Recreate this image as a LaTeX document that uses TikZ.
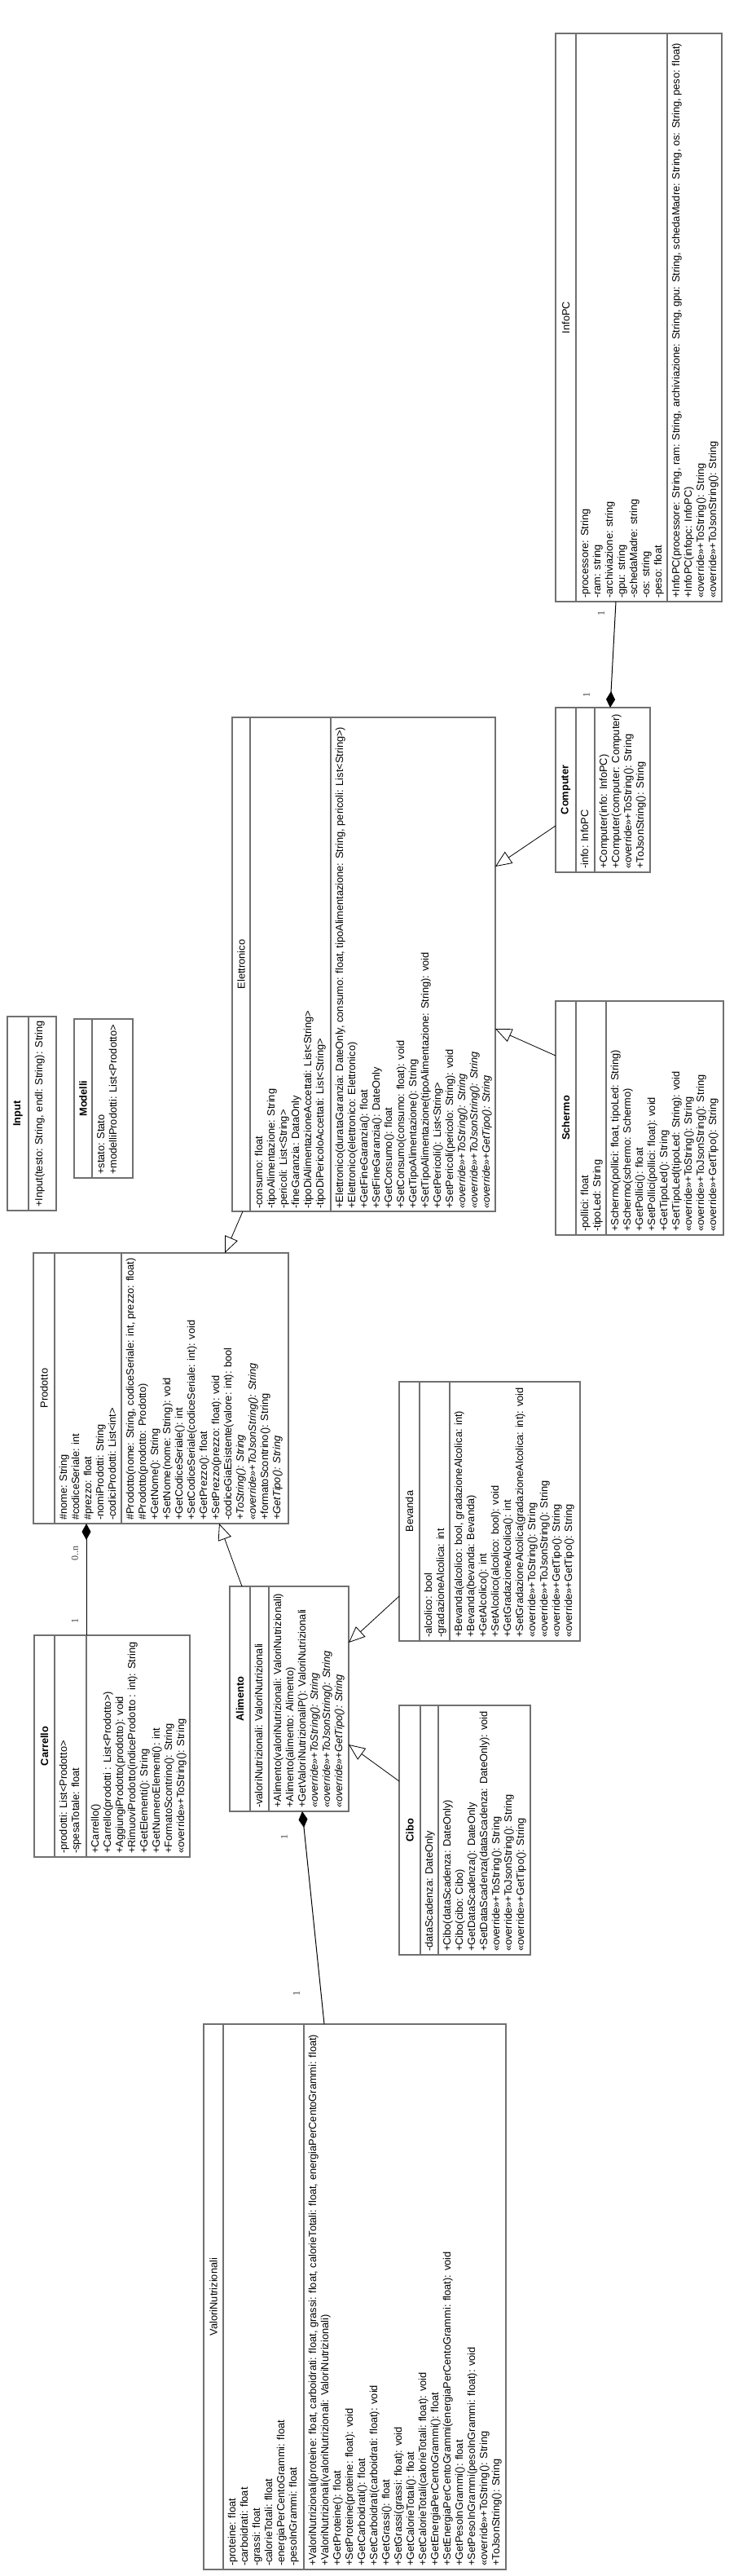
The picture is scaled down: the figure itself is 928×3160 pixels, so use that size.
\documentclass[tikz,border=0pt]{standalone}
\usepackage{fontspec}
\setmainfont{Liberation Sans}
\newfontfamily\lblfont{Liberation Serif}
\usetikzlibrary{arrows.meta,calc}
\definecolor{boxgray}{RGB}{112,112,112}
\tikzset{
 classbox/.style={draw=boxgray, line width=1.5pt, fill=white, inner sep=0pt, outer sep=0pt, anchor=north west},
 sepline/.style={draw=boxgray, line width=1.5pt},
 txt/.style={rotate=90, anchor=base west, inner sep=0pt, font=\fontsize{12.8}{15}\selectfont},
 ttl/.style={rotate=90, anchor=center, inner sep=0pt, font=\fontsize{12.8}{15}\selectfont},
 ttlb/.style={rotate=90, anchor=center, inner sep=0pt, font=\fontsize{12.8}{15}\selectfont\bfseries},
 gen/.style={draw=black, line width=0.8pt, -{Triangle[open, length=20pt, width=17pt, line width=0.8pt]}},
 compo/.style={draw=black, line width=1pt, {Diamond[length=20pt, width=11pt]}-},
 mult/.style={rotate=90, inner sep=0pt, font=\lblfont\fontsize{12}{14}\selectfont, text=black!75},
}
% #1 separator x, #2 bottom y (text start), #3 list of entries
\newcommand{\entries}[3]{\foreach \entry [count=\i from 0] in {#3}{\node[txt] at ({#1+15+15*\i},{#2}) {\entry};}}
% #1 name #2 x1 #3 y1 #4 x2 #5 y2 #6 sep1 #7 sep2
\newcommand{\clsbox}[7]{%
 \node[classbox, minimum width={(#4-#2)*1pt}, minimum height={(#5-#3)*1pt}] (#1) at (#2,#3) {};
 \draw[sepline] (#6,#3) -- (#6,#5);
 \draw[sepline] (#7,#3) -- (#7,#5);
}
\begin{document}
\begin{tikzpicture}[x=1pt, y=-1pt]
\useasboundingbox (0,0) rectangle (928,3160);
\fill[white] (0,0) rectangle (928,3160);

% ---------- InfoPC
\clsbox{infopc}{682}{41}{886}{738}{707}{819}
\node[ttl] at (694.5,389.5) {InfoPC};
\entries{707}{734}{{-processore: String},{-ram: string},{-archiviazione: string},{-gpu: string},{-schedaMadre: string},{-os: string},{-peso: float}}
\entries{819}{734}{{+InfoPC(processore: String, ram: String, archiviazione: String, gpu: String, schedaMadre: String, os: String, peso: float)},{+InfoPC(infopc: InfoPC)},{«override»+ToString(): String},{«override»+ToJsonString(): String}}

% ---------- Computer
\clsbox{comp}{682}{868}{798}{1070}{707}{730}
\node[ttlb] at (694.5,969) {Computer};
\entries{707}{1066}{{-info: InfoPC}}
\entries{730}{1066}{{+Computer(info: InfoPC)},{+Computer(computer: Computer)},{«override»+ToString(): String},{+ToJsonString(): String}}

% ---------- Schermo
\clsbox{scherm}{682}{1228}{888}{1515}{707}{744}
\node[ttlb] at (694.5,1371.5) {Schermo};
\entries{707}{1511}{{-pollici: float},{-tipoLed: String}}
\entries{744}{1511}{{+Schermo(pollici: float, tipoLed: String)},{+Schermo(schermo: Schermo)},{+GetPollici(): float},{+SetPollici(pollici: float): void},{+GetTipoLed(): String},{+SetTipoLed(tipoLed: String): void},{«override»+ToString(): String},{«override»+ToJsonString(): String},{«override»+GetTipo(): String}}

% ---------- Elettronico
\clsbox{elet}{285}{880}{608}{1486}{307}{406}
\node[ttl] at (296,1183) {Elettronico};
\entries{307}{1483}{{-consumo: float},{-tipoAlimentazione: String},{-pericoli: List<String>},{-fineGaranzia: DataOnly},{-tipoDiAlimentazioneAccettati: List<String>},{-tipoDiPericoloAccettati: List<String>}}
\entries{406}{1483}{{+Elettronico(durataGaranzia: DateOnly, consumo: float, tipoAlimentazione: String, pericoli: List<String>)},{+Elettronico(elettronico: Elettronico)},{+GetFineGaranzia(): float},{+SetFineGaranzia(): DateOnly},{+GetConsumo(): float},{+SetConsumo(consumo: float): void},{+GetTipoAlimentazione(): String},{+SetTipoAlimentazione(tipoAlimentazione: String): void},{+GetPericoli(): List<String>},{+SetPericoli(pericolo: String): void},{\textit{«override»+ToString(): String}},{\textit{«override»+ToJsonString(): String}},{\textit{«override»+GetTipo(): String}}}

% ---------- Input
\node[classbox, minimum width=60pt, minimum height=238pt] (inp) at (9,1247) {};
\draw[sepline] (35,1247) -- (35,1485);
\node[ttlb] at (22,1366) {Input};
\node[txt] at (52,1481) {+Input(testo: String, endl: String): String};

% ---------- Modelli
\node[classbox, minimum width=72pt, minimum height=195pt] (mod) at (91,1250) {};
\draw[sepline] (113,1250) -- (113,1445);
\node[ttlb] at (102,1347.5) {Modelli};
\entries{113}{1441}{{+stato: Stato},{+modelliProdotti: List<Prodotto>}}

% ---------- Prodotto
\clsbox{prod}{41}{1537}{354}{1869}{67}{149}
\node[ttl] at (54,1703) {Prodotto};
\entries{67}{1865}{{\#nome: String},{\#codiceSeriale: int},{\#prezzo: float},{-nomiProdotti: String},{-codiciProdotti: List<int>}}
\entries{149}{1865}{{\#Prodotto(nome: String, codiceSeriale: int, prezzo: float)},{\#Prodotto(prodotto: Prodotto)},{+GetNome(): String},{+SetNome(nome: String): void},{+GetCodiceSeriale(): int},{+SetCodiceSeriale(codiceSeriale: int): void},{+GetPrezzo(): float},{+SetPrezzo(prezzo: float): void},{-codiceGiaEsistente(valore: int): bool},{\textit{+ToString(): String}},{\textit{«override»+ToJsonString(): String}},{+formatoScontrino(): String},{\textit{+GetTipo(): String}}}

% ---------- Carrello
\clsbox{carr}{42}{2006}{233}{2278}{67}{106}
\node[ttlb] at (54.5,2142) {Carrello};
\entries{67}{2274}{{-prodotti: List<Prodotto>},{-spesaTotale: float}}
\entries{106}{2274}{{+Carrello()},{+Carrello(prodotti : List<Prodotto>)},{+AggiungiProdotto(prodotto): void},{+RimuoviProdotto(indiceProdotto : int): String},{+GetElementi(): String},{+GetNumeroElementi(): int},{+FormatoScontrino(): String},{«override»+ToString(): String}}

% ---------- Alimento
\clsbox{alim}{282}{1946}{428}{2222}{307}{330}
\node[ttlb] at (294.5,2084) {Alimento};
\entries{307}{2218}{{-valoriNutrizionali: ValoriNutrizionali}}
\entries{330}{2218}{{+Alimento(valoriNutrizionali: ValoriNutrizionali)},{+Alimento(alimento: Alimento)},{+GetValoriNutrizionaliP(): ValoriNutrizionali},{\textit{«override»+ToString(): String}},{\textit{«override»+ToJsonString(): String}},{\textit{«override»+GetTipo(): String}}}

% ---------- Bevanda
\clsbox{bev}{490}{1695}{712}{2013}{515}{552}
\node[ttl] at (502.5,1854) {Bevanda};
\entries{515}{2009}{{-alcolico: bool},{-gradazioneAlcolica: int}}
\entries{552}{2009}{{+Bevanda(alcolico: bool, gradazioneAlcolica: int)},{+Bevanda(bevanda: Bevanda)},{+GetAlcolico(): int},{+SetAlcolico(alcolico: bool): void},{+GetGradazioneAlcolica(): int},{+SetGradazioneAlcolica(gradazioneAlcolica: int): void},{«override»+ToString(): String},{«override»+ToJsonString(): String},{«override»+GetTipo(): String},{«override»+GetTipo(): String}}

% ---------- Cibo
\clsbox{cibo}{490}{2092}{651}{2398}{516}{538}
\node[ttlb] at (503,2245) {Cibo};
\entries{516}{2394}{{-dataScadenza: DateOnly}}
\entries{538}{2394}{{+Cibo(dataScadenza: DateOnly)},{+Cibo(cibo: Cibo)},{+GetDataScadenza(): DateOnly},{+SetDataScadenza(dataScadenza: DateOnly): void},{«override»+ToString(): String},{«override»+ToJsonString(): String},{«override»+GetTipo(): String}}

% ---------- ValoriNutrizionali
\clsbox{vn}{250}{2483}{621}{3152}{274}{373}
\node[ttl] at (262,2817.5) {ValoriNutrizionali};
\entries{274}{3148}{{-proteine: float},{-carboidrati: float},{-grassi: float},{-calorieTotali: flloat},{-energiaPerCentoGrammi: float},{-pesoInGrammi: float}}
\entries{373}{3148}{{+ValoriNutrizionali(proteine: float, carboidrati: float, grassi: float, calorieTotali: float, energiaPerCentoGrammi: float)},{+ValoriNutrizionali(valoriNutrizionali: ValoriNutrizionali)},{+GetProteine(): float},{+SetProteine(proteine: float): void},{+GetCarboidrati(): float},{+SetCarboidrati(carboidrati: float): void},{+GetGrassi(): float},{+SetGrassi(grassi: float): void},{+GetCalorieTotali(): float},{+SetCalorieTotali(calorieTotali: float): void},{+GetEnergiaPerCentoGrammi(): float},{+SetEnergiaPerCentoGrammi(energiaPerCentoGrammi: float): void},{+GetPesoInGrammi(): float},{+SetPesoInGrammi(pesoInGrammi: float): void},{«override»+ToString(): String},{+ToJsonString(): String}}

% ---------- connectors
% composition Computer - InfoPC
\draw[compo] ($(comp.north west)+(67,0)$) -- ($(infopc.south west)+(74,0)$);
\node[mult] at (738,752) {1};
\node[mult] at (720,852) {1};
% generalizations to Elettronico
\draw[gen] ($(comp.north west)+(0,145)$) -- ($(elet.north east)+(0,183)$);
\draw[gen] ($(scherm.north west)+(0,67)$) -- ($(elet.north east)+(0,382)$);
% Elettronico -> Prodotto
\draw[gen] ($(elet.south west)+(13,0)$) -- ($(prod.north west)+(235,0)$);
% Alimento -> Prodotto
\draw[gen] ($(alim.north west)+(15,0)$) -- ($(prod.south west)+(228,0)$);
% Bevanda, Cibo -> Alimento
\draw[gen] ($(bev.north west)+(0,263)$) -- ($(alim.north east)+(0,69)$);
\draw[gen] ($(cibo.north west)+(0,93)$) -- ($(alim.north east)+(0,194)$);
% composition Prodotto - Carrello
\draw[compo] ($(prod.south west)+(65,0)$) -- ($(carr.north west)+(64,0)$);
\node[mult] at (92,1905) {0..n};
\node[mult] at (92,1988) {1};
% composition Alimento - ValoriNutrizionali
\draw[compo] ($(alim.south west)+(89,0)$) -- ($(vn.north west)+(148,0)$);
\node[mult] at (349,2253) {1};
\node[mult] at (364,2445) {1};
\end{tikzpicture}
\end{document}
